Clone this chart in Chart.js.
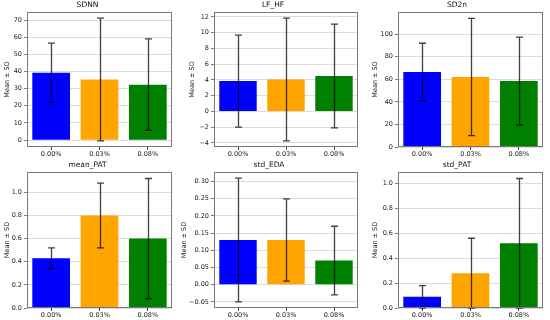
<!DOCTYPE html>
<html>
<head>
<meta charset="utf-8">
<script src="https://cdn.jsdelivr.net/npm/chart.js@4.4.0/dist/chart.umd.min.js"></script>
<style>
  body { margin: 0; background: #fff; width: 550px; height: 320px; position: relative; overflow: hidden; }
  canvas { position: absolute; }
</style>
</head>
<body>
<script>
// groups on the x axis
const groups = ["0.00%", "0.03%", "0.08%"];
const barColors = ["#0000ff", "#ffa500", "#008000"];

// one entry per subplot
const titles = ["SDNN", "LF_HF", "SD2n", "mean_PAT", "std_EDA", "std_PAT"];

const sdnnMean = [39.2, 35.3, 32.3];
const sdnnSd = [17.3, 35.8, 26.7];
const sdnnTicks = [0, 10, 20, 30, 40, 50, 60, 70];

const lfhfMean = [3.85, 4.05, 4.5];
const lfhfSd = [5.85, 7.8, 6.6];
const lfhfTicks = [-4, -2, 0, 2, 4, 6, 8, 10, 12];

const sd2nMean = [66.5, 62, 58.5];
const sd2nSd = [25.5, 52, 39];
const sd2nTicks = [0, 20, 40, 60, 80, 100];

const meanPatMean = [0.43, 0.80, 0.60];
const meanPatSd = [0.09, 0.28, 0.52];
const meanPatTicks = [0.0, 0.2, 0.4, 0.6, 0.8, 1.0];

const stdEdaMean = [0.13, 0.13, 0.07];
const stdEdaSd = [0.18, 0.12, 0.10];
const stdEdaTicks = [-0.05, 0.00, 0.05, 0.10, 0.15, 0.20, 0.25, 0.30];

const stdPatMean = [0.09, 0.28, 0.52];
const stdPatSd = [0.09, 0.28, 0.52];
const stdPatTicks = [0.0, 0.2, 0.4, 0.6, 0.8, 1.0];

const means = [sdnnMean, lfhfMean, sd2nMean, meanPatMean, stdEdaMean, stdPatMean];
const sds = [sdnnSd, lfhfSd, sd2nSd, meanPatSd, stdEdaSd, stdPatSd];
const tickLists = [sdnnTicks, lfhfTicks, sd2nTicks, meanPatTicks, stdEdaTicks, stdPatTicks];
const tickDecimals = [0, 0, 0, 1, 2, 1];

// plot area of each subplot in the page (left, right, top, bottom) and the y label x
const boxes = [
  { l: 27, r: 172, t: 12, b: 147, lab: 7 },
  { l: 214, r: 358, t: 12, b: 147, lab: 192 },
  { l: 398, r: 543, t: 12, b: 147, lab: 375 },
  { l: 27, r: 172, t: 172, b: 308, lab: 7 },
  { l: 214, r: 358, t: 172, b: 308, lab: 184 },
  { l: 398, r: 543, t: 172, b: 308, lab: 375 },
];

const TITLE_H = 11;
const XAXIS_H = 14;
const FONT = "'DejaVu Sans', sans-serif";

// error bars with caps, drawn over the bars
const errorBars = {
  id: "errbars",
  afterDatasetsDraw(chart, args, opts) {
    const ctx = chart.ctx;
    const y = chart.scales.y;
    const meta = chart.getDatasetMeta(0);
    const data = chart.data.datasets[0].data;
    ctx.save();
    ctx.strokeStyle = "rgba(0,0,0,0.75)";
    ctx.lineWidth = 1.3;
    meta.data.forEach((bar, i) => {
      const top = y.getPixelForValue(data[i] + opts.sd[i]);
      const bot = y.getPixelForValue(data[i] - opts.sd[i]);
      const x = Math.round(bar.x) + 0.5;
      ctx.beginPath();
      ctx.moveTo(x, top);
      ctx.lineTo(x, bot);
      ctx.moveTo(x - 3.5, top);
      ctx.lineTo(x + 3.5, top);
      ctx.moveTo(x - 3.5, bot);
      ctx.lineTo(x + 3.5, bot);
      ctx.stroke();
    });
    ctx.restore();
  },
};

// full box around the axes
const frame = {
  id: "frame",
  afterDraw(chart) {
    const a = chart.chartArea;
    const ctx = chart.ctx;
    ctx.save();
    ctx.strokeStyle = "#777";
    ctx.lineWidth = 1;
    ctx.strokeRect(Math.round(a.left) + 0.5, Math.round(a.top) + 0.5,
      Math.round(a.right - a.left) - 1, Math.round(a.bottom - a.top) - 1);
    ctx.restore();
  },
};

function axisLimits(mean, sd) {
  const lows = mean.map((m, i) => m - sd[i]);
  const highs = mean.map((m, i) => m + sd[i]);
  const lo = Math.min(0, ...lows);
  const hi = Math.max(...highs);
  const pad = 0.05 * (hi - lo);
  return { min: lo < 0 ? lo - pad : 0, max: hi + pad };
}

boxes.forEach((box, k) => {
  const canvasLeft = box.lab - 4;
  const yw = box.l - canvasLeft;
  const w = box.r - canvasLeft + 3;
  const h = TITLE_H + (box.b - box.t) + XAXIS_H;

  const canvas = document.createElement("canvas");
  canvas.width = w;
  canvas.height = h;
  canvas.style.left = canvasLeft + "px";
  canvas.style.top = (box.t - TITLE_H) + "px";
  canvas.style.width = w + "px";
  canvas.style.height = h + "px";
  document.body.appendChild(canvas);

  const lim = axisLimits(means[k], sds[k]);
  const ticks = tickLists[k];
  const dec = tickDecimals[k];

  new Chart(canvas.getContext("2d"), {
    type: "bar",
    data: {
      labels: groups,
      datasets: [{
        data: means[k],
        backgroundColor: barColors,
        borderWidth: 0,
        barPercentage: 0.78,
        categoryPercentage: 1,
      }],
    },
    options: {
      responsive: false,
      animation: false,
      devicePixelRatio: 1,
      layout: { padding: { left: 0, right: 3, top: 0, bottom: 0 } },
      plugins: {
        legend: { display: false },
        tooltip: { enabled: false },
        title: {
          display: true,
          text: titles[k],
          color: "#111",
          font: { family: FONT, size: 7.5, weight: "normal", lineHeight: 1.2 },
          padding: { top: 0, bottom: 2 },
        },
        errbars: { sd: sds[k] },
      },
      scales: {
        x: {
          afterFit: (s) => { s.height = XAXIS_H; },
          grid: {
            display: true,
            drawOnChartArea: false,
            offset: false,
            tickLength: 3,
            tickColor: "#444",
          },
          border: { display: false },
          ticks: { color: "#222", padding: 0, font: { family: FONT, size: 6.5 } },
        },
        y: {
          min: lim.min,
          max: lim.max,
          afterFit: (s) => { s.width = yw; },
          afterBuildTicks: (s) => { s.ticks = ticks.map((v) => ({ value: v })); },
          grid: {
            color: "rgba(0,0,0,0.2)",
            lineWidth: 0.7,
            borderDash: [2.5, 2.5],
            tickLength: 3,
            tickColor: "#444",
            tickBorderDash: [],
          },
          border: { display: false },
          title: {
            display: true,
            text: "Mean ± SD",
            color: "#222",
            font: { family: FONT, size: 6.5 },
            padding: { top: 0, bottom: 0 },
          },
          ticks: {
            color: "#222",
            padding: 2,
            font: { family: FONT, size: 6.5 },
            callback: (v) => Number(v).toFixed(dec).replace("-", "\u2212"),
          },
        },
      },
    },
    plugins: [errorBars, frame],
  });
});
</script>
</body>
</html>
